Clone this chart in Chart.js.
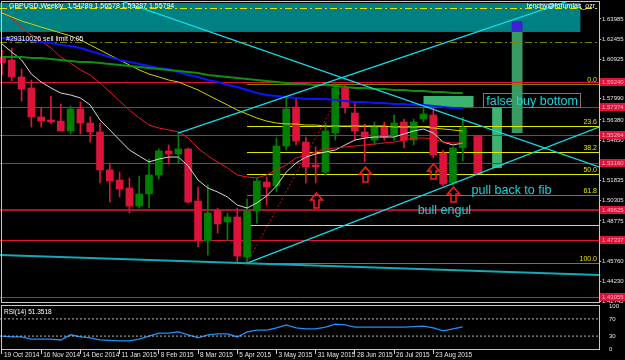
<!DOCTYPE html>
<html>
<head>
<meta charset="utf-8">
<script src="https://cdn.jsdelivr.net/npm/chart.js@4.4.0/dist/chart.umd.min.js"></script>
<style>
  html, body { margin: 0; padding: 0; background: #000; }
  #wrap { position: relative; width: 625px; height: 360px; overflow: hidden; background: #000; }
  #price { position: absolute; left: 0; top: 0; }
  #rsi { position: absolute; left: 0; top: 303px; }
</style>
</head>
<body>
<div id="wrap">
  <canvas id="price" width="625" height="303"></canvas>
  <canvas id="rsi" width="625" height="57"></canvas>
</div>
<script>
// weekly GBPUSD candles, 19 Oct 2014 onward (index = week)
const opens  = [1.6112,1.6090,1.5962,1.5879,1.5661,1.5638,1.5630,1.5555,1.5721,1.5615,1.5548,1.5262,1.5186,1.5126,1.4990,1.5081,1.5224,1.5405,1.5382,1.5420,1.5028,1.4727,1.4960,1.4870,1.4908,1.4606,1.4953,1.5171,1.5141,1.5442,1.5736,1.5472,1.5299,1.5246,1.5540,1.5879,1.5691,1.5548,1.5487,1.5585,1.5525,1.5623,1.5487,1.5645,1.5676,1.5389,1.5164,1.5429];
const highs  = [1.6165,1.6180,1.6022,1.5939,1.5728,1.5819,1.5758,1.5743,1.5773,1.5661,1.5615,1.5314,1.5246,1.5201,1.5216,1.5344,1.5420,1.5450,1.5540,1.5427,1.5133,1.5149,1.4975,1.4938,1.4975,1.5043,1.5201,1.5209,1.5502,1.5804,1.5804,1.5510,1.5435,1.5615,1.5917,1.5909,1.5773,1.5608,1.5623,1.5623,1.5676,1.5645,1.5645,1.5736,1.5736,1.5412,1.5435,1.5658];
const lows   = [1.5977,1.5932,1.5781,1.5585,1.5585,1.5608,1.5555,1.5533,1.5533,1.5472,1.5164,1.5020,1.5058,1.4938,1.4975,1.4975,1.5194,1.5307,1.5314,1.5013,1.4682,1.4621,1.4787,1.4727,1.4569,1.4561,1.4862,1.4998,1.5096,1.5412,1.5450,1.5164,1.5164,1.5224,1.5487,1.5691,1.5487,1.5322,1.5450,1.5487,1.5487,1.5427,1.5450,1.5623,1.5352,1.5141,1.5149,1.5329];
const closes = [1.6067,1.5962,1.5871,1.5661,1.5630,1.5623,1.5555,1.5721,1.5615,1.5548,1.5262,1.5179,1.5118,1.4990,1.5081,1.5224,1.5405,1.5382,1.5420,1.5020,1.4727,1.4938,1.4855,1.4908,1.4614,1.4953,1.5179,1.5133,1.5442,1.5721,1.5480,1.5284,1.5284,1.5555,1.5879,1.5736,1.5555,1.5510,1.5585,1.5510,1.5615,1.5487,1.5623,1.5683,1.5374,1.5156,1.5427,1.5579];

// moving averages
const maWhite  = [1.6210,1.6150,1.6090,1.5984,1.5924,1.5879,1.5841,1.5826,1.5804,1.5751,1.5638,1.5563,1.5487,1.5412,1.5367,1.5322,1.5344,1.5359,1.5359,1.5292,1.5186,1.5126,1.5096,1.5058,1.4998,1.4975,1.5013,1.5066,1.5141,1.5246,1.5314,1.5359,1.5382,1.5397,1.5412,1.5450,1.5487,1.5502,1.5510,1.5510,1.5510,1.5533,1.5555,1.5570,1.5540,1.5472,1.5450,1.5465];
const maRed    = [1.6451,1.6406,1.6331,1.6278,1.6233,1.6180,1.6112,1.6067,1.6015,1.5977,1.5917,1.5849,1.5781,1.5713,1.5653,1.5600,1.5578,1.5563,1.5548,1.5502,1.5427,1.5367,1.5322,1.5277,1.5224,1.5209,1.5201,1.5224,1.5262,1.5299,1.5352,1.5374,1.5397,1.5420,1.5427,1.5435,1.5442,1.5450,1.5457,1.5465,1.5472,1.5487,1.5502,1.5502,1.5495,1.5472,1.5465,1.5465];
const maYellow = [1.6444,1.6414,1.6383,1.6361,1.6338,1.6316,1.6293,1.6271,1.6240,1.6203,1.6165,1.6127,1.6090,1.6052,1.6015,1.5984,1.5962,1.5939,1.5924,1.5894,1.5864,1.5826,1.5789,1.5751,1.5713,1.5683,1.5653,1.5630,1.5615,1.5608,1.5608,1.5600,1.5600,1.5593,1.5593,1.5593,1.5593,1.5593,1.5593,1.5593,1.5585,1.5585,1.5585,1.5585,1.5578,1.5570,1.5563,1.5555];
const maBlue   = [1.6255,1.6248,1.6240,1.6233,1.6225,1.6218,1.6203,1.6195,1.6180,1.6157,1.6135,1.6112,1.6090,1.6075,1.6060,1.6045,1.6030,1.6022,1.6000,1.5977,1.5962,1.5939,1.5924,1.5902,1.5887,1.5864,1.5841,1.5826,1.5819,1.5811,1.5804,1.5796,1.5796,1.5796,1.5789,1.5781,1.5773,1.5773,1.5766,1.5766,1.5758,1.5758,1.5751,1.5751,1.5743,1.5736,1.5728,1.5728];
const maGreen  = [1.6112,1.6112,1.6112,1.6105,1.6105,1.6097,1.6090,1.6082,1.6075,1.6075,1.6067,1.6060,1.6052,1.6045,1.6037,1.6030,1.6022,1.6015,1.6007,1.6000,1.5992,1.5977,1.5969,1.5962,1.5954,1.5947,1.5939,1.5932,1.5924,1.5917,1.5909,1.5909,1.5902,1.5902,1.5894,1.5887,1.5879,1.5879,1.5871,1.5871,1.5864,1.5864,1.5856,1.5856,1.5849,1.5849,1.5841,1.5841];

// RSI(14)
const rsi = [30,28,28,23,23,23,21,33,28,26,21,20,19,19,23,30,37,37,40,33,26,33,35,35,28,40,44,44,49,56,49,47,47,51,58,56,51,51,51,51,51,51,52,53,49,42,47,51.35];

// axis labels
const priceTicks = [1.63985,1.62455,1.60925,1.57990,1.56380,1.54850,1.51835,1.50305,1.48775,1.45760,1.44230,1.42745];
const rsiTicks = [100,70,30,0];
const dateTickIdx = [0,4,8,12,16,20,24,28,32,36,40,44];
const dateLabels = ['19 Oct 2014','16 Nov 2014','14 Dec 2014','11 Jan 2015','8 Feb 2015','8 Mar 2015','5 Apr 2015','3 May 2015','31 May 2015','28 Jun 2015','26 Jul 2015','23 Aug 2015'];

// drawn objects (week index, price)
const srLevels = [1.59240,1.57374,1.55264,1.53160,1.49625,1.47337,1.43055];
const orderLevels = [1.6481,1.6225];
const fibLevels = [1.5909,1.5591,1.5394,1.5235,1.5076,1.4849,1.4561];
const fibNames = ['0.0','23.6','38.2','50.0','61.8','','100.0'];
const fibFrom = 25;
const fibAnchor = [25.0,1.4561,35.0,1.5909];
const zoneBoxes = [[-0.2,59.0,1.6519,1.6301],[52.0,53.1,1.6383,1.6301],[52.0,53.1,1.6301,1.5540],[50.0,51.0,1.5736,1.5277],[43.0,48.1,1.5819,1.5736],[48.1,49.0,1.5517,1.5224]];
const trendLines = [[17.96,1.5540,60.9,1.6612],[11.84,1.6542,60.9,1.5284],[25.0,1.4561,60.9,1.5585],[-0.2,1.4622,60.9,1.4471]];
const arrowIdx = [32,37,44,46];
const arrowPrice = [1.5088,1.5284,1.5307,1.5133];
const noteText = ['false buy bottom','pull back to fib','bull engul'];
const noteIdx = [49.4,47.9,42.4];
const notePrice = [1.5781,1.5111,1.4960];

const xMin = -0.2, xMax = 60.9;
const FONT = '"Liberation Sans", Arial, sans-serif';
Chart.defaults.font.family = FONT;

const weeks = opens.map((v, i) => i);
const candleColor = ctx => closes[ctx.dataIndex] >= opens[ctx.dataIndex] ? '#008000' : '#dc143c';
const maLine = (vals, color, w) => ({
  type: 'line', data: vals.map((v, i) => ({ x: i, y: v })),
  borderColor: color, borderWidth: w, pointRadius: 0, tension: 0, order: 0
});

function hline(ctx, x0, x1, y) {
  ctx.beginPath(); ctx.moveTo(x0, y); ctx.lineTo(x1, y); ctx.stroke();
}

const mtObjects = {
  id: 'mtObjects',
  beforeDatasetsDraw(chart) {
    const { ctx, chartArea: a } = chart;
    const X = v => chart.scales.x.getPixelForValue(v);
    const Y = v => chart.scales.y.getPixelForValue(v);
    ctx.save();
    ctx.beginPath(); ctx.rect(a.left, a.top, a.right - a.left, a.bottom - a.top); ctx.clip();

    const zoneColors = ['#008080', '#3a22d8', '#3a9a64', '#3cb371', '#3cb371', '#dc143c'];
    zoneBoxes.forEach((b, k) => {
      ctx.fillStyle = zoneColors[k];
      ctx.fillRect(X(b[0]), Y(b[2]), X(b[1]) - X(b[0]), Y(b[3]) - Y(b[2]));
    });

    // pending order lines
    ctx.lineWidth = 1;
    ctx.setLineDash([7, 3, 2, 3]);
    orderLevels.forEach((p, k) => {
      ctx.strokeStyle = k === 0 ? '#e6e600' : '#808000';
      hline(ctx, a.left, a.right, Math.round(Y(p)) + 0.5);
    });
    ctx.setLineDash([]);

    // support / resistance
    srLevels.forEach((p, k) => {
      ctx.strokeStyle = k === 4 ? '#b0122c' : '#dc143c';
      ctx.lineWidth = k === 4 ? 2 : 1;
      hline(ctx, a.left, a.right, Math.round(Y(p)) + (k === 4 ? 0 : 0.5));
    });

    // fibonacci levels
    ctx.lineWidth = 1;
    fibLevels.forEach((p, k) => {
      ctx.strokeStyle = (k === 0 || k === 4 || k === 6) ? '#808000' : '#e6e600';
      hline(ctx, X(fibFrom), a.right, Math.round(Y(p)) + 0.5);
    });
    ctx.restore();
  },
  afterDatasetsDraw(chart) {
    const { ctx, chartArea: a } = chart;
    const X = v => chart.scales.x.getPixelForValue(v);
    const Y = v => chart.scales.y.getPixelForValue(v);
    ctx.save();
    ctx.beginPath(); ctx.rect(a.left, a.top, a.right - a.left, a.bottom - a.top); ctx.clip();

    // fib anchor (dotted)
    ctx.strokeStyle = '#c0141c'; ctx.lineWidth = 1; ctx.setLineDash([2, 2]);
    ctx.beginPath(); ctx.moveTo(X(fibAnchor[0]), Y(fibAnchor[1])); ctx.lineTo(X(fibAnchor[2]), Y(fibAnchor[3])); ctx.stroke();
    ctx.setLineDash([]);

    // trend lines
    trendLines.forEach((t, k) => {
      ctx.strokeStyle = k === 3 ? '#14a9b8' : '#10dcec';
      ctx.lineWidth = k === 3 ? 2 : 1.3;
      ctx.beginPath(); ctx.moveTo(X(t[0]), Y(t[1])); ctx.lineTo(X(t[2]), Y(t[3])); ctx.stroke();
    });

    // up arrows
    ctx.strokeStyle = '#ff1a1a'; ctx.lineWidth = 1.5; ctx.lineJoin = 'miter';
    arrowIdx.forEach((ix, k) => {
      const x = Math.round(X(ix)) + 0.5, y = Math.round(Y(arrowPrice[k]));
      ctx.beginPath();
      ctx.moveTo(x, y); ctx.lineTo(x + 6, y + 7); ctx.lineTo(x + 2.5, y + 7);
      ctx.lineTo(x + 2.5, y + 15); ctx.lineTo(x - 2.5, y + 15); ctx.lineTo(x - 2.5, y + 7);
      ctx.lineTo(x - 6, y + 7); ctx.closePath(); ctx.stroke();
    });

    // notes
    ctx.font = '12.5px ' + FONT; ctx.textBaseline = 'middle'; ctx.textAlign = 'left';
    noteText.forEach((t, k) => {
      const x = X(noteIdx[k]), y = Y(notePrice[k]);
      if (k === 0) {
        const w = ctx.measureText(t).width;
        ctx.strokeStyle = '#7a7a7a'; ctx.lineWidth = 1;
        ctx.strokeRect(Math.round(x) - 2.5, Math.round(y) - 7.5, Math.round(w) + 5, 14);
      }
      ctx.fillStyle = '#1cd2df';
      ctx.fillText(t, x, y + 1);
    });

    // fib labels
    ctx.font = '7px ' + FONT; ctx.textAlign = 'right'; ctx.textBaseline = 'bottom';
    ctx.fillStyle = '#e6e600';
    fibLevels.forEach((p, k) => { if (fibNames[k]) ctx.fillText(fibNames[k], a.right - 2, Math.round(Y(p)) - 0.5); });
    ctx.restore();
  },
  afterDraw(chart) {
    const { ctx, chartArea: a } = chart;
    const Y = v => chart.scales.y.getPixelForValue(v);
    ctx.save();
    // frame
    ctx.strokeStyle = '#c8c8c8'; ctx.lineWidth = 1;
    ctx.strokeRect(1.5, a.top - 0.5, a.right - 1, a.bottom - a.top + 1);

    // price labels of levels on the axis
    ctx.font = '6px ' + FONT; ctx.textBaseline = 'middle'; ctx.textAlign = 'left';
    srLevels.forEach(p => {
      const y = Math.round(Y(p));
      ctx.fillStyle = '#dc143c';
      ctx.fillRect(a.right + 1, y - 4, 25, 8);
      ctx.fillStyle = '#ffb0bd';
      ctx.fillText(p.toFixed(5), a.right + 3, y + 0.5);
    });

    // header texts
    ctx.font = '7px ' + FONT; ctx.textBaseline = 'top';
    ctx.fillStyle = '#ffffff';
    ctx.fillText('GBPUSD,Weekly  1.54289 1.56578 1.53287 1.55794', 9, 3);
    ctx.fillText('#29310026 sell limit 0.05', 6, 36);
    ctx.textAlign = 'right';
    ctx.fillText('tenchy@forumlas_ozr', a.right - 4, 3);
    ctx.restore();
  }
};

new Chart(document.getElementById('price'), {
  type: 'bar',
  data: {
    datasets: [
      maLine(maGreen, '#0e8f0e', 2),
      maLine(maBlue, '#0a14ff', 2),
      maLine(maYellow, '#d2d200', 1),
      maLine(maRed, '#ee1520', 1),
      maLine(maWhite, '#d8d8d8', 1),
      {
        data: weeks.map(i => ({ x: i, y: [lows[i], highs[i]] })),
        backgroundColor: candleColor, barThickness: 1, grouped: false, order: 2
      },
      {
        data: weeks.map(i => ({ x: i, y: [opens[i], closes[i]] })),
        backgroundColor: candleColor, barThickness: 7, minBarLength: 1, grouped: false, order: 1
      }
    ]
  },
  options: {
    responsive: false,
    animation: false,
    events: [],
    layout: { padding: { top: 2, bottom: 1, left: 0, right: 0 } },
    plugins: { legend: { display: false }, tooltip: { enabled: false } },
    scales: {
      x: { type: 'linear', min: xMin, max: xMax, offset: false, display: false },
      y: {
        position: 'right', min: 1.42675, max: 1.65265,
        afterBuildTicks: s => { s.ticks = priceTicks.map(v => ({ value: v })); },
        afterFit: s => { s.width = 26; s.paddingTop = 0; s.paddingBottom = 0; },
        ticks: { color: '#e4e4e4', font: { size: 6 }, padding: 1, autoSkip: false, callback: v => v.toFixed(5) },
        grid: { drawOnChartArea: false, color: '#c8c8c8', tickLength: 2 },
        border: { display: false }
      }
    }
  },
  plugins: [mtObjects]
});

const rsiPanel = {
  id: 'rsiPanel',
  afterDraw(chart) {
    const { ctx, chartArea: a } = chart;
    ctx.save();
    ctx.strokeStyle = '#c8c8c8'; ctx.lineWidth = 1;
    ctx.strokeRect(1.5, a.top - 0.5, a.right - 1, a.bottom - a.top + 1);
    ctx.font = '6.5px ' + FONT; ctx.fillStyle = '#ffffff'; ctx.textBaseline = 'top';
    ctx.fillText('RSI(14) 51.3518', 4, a.top + 3);
    ctx.restore();
  }
};

const levelLine = v => ({
  data: [{ x: xMin, y: v }, { x: xMax, y: v }],
  borderColor: '#b4b4b4', borderWidth: 1, borderDash: [2, 2], pointRadius: 0
});

new Chart(document.getElementById('rsi'), {
  type: 'line',
  data: {
    datasets: [
      levelLine(70),
      levelLine(30),
      { data: rsi.map((v, i) => ({ x: i, y: v })), borderColor: '#1e90ff', borderWidth: 1.3, pointRadius: 0, tension: 0 }
    ]
  },
  options: {
    responsive: false,
    animation: false,
    events: [],
    layout: { padding: { top: 3, bottom: 0, left: 0, right: 0 } },
    plugins: { legend: { display: false }, tooltip: { enabled: false } },
    scales: {
      x: {
        type: 'linear', min: xMin, max: xMax,
        afterBuildTicks: s => { s.ticks = dateTickIdx.map(v => ({ value: v })); },
        afterFit: s => { s.height = 11; s.paddingLeft = 0; s.paddingRight = 0; },
        ticks: {
          align: 'start', labelOffset: 2, padding: -3, color: '#e4e4e4', font: { size: 6.5 },
          autoSkip: false, maxRotation: 0,
          callback: v => dateLabels[dateTickIdx.indexOf(v)]
        },
        grid: { drawOnChartArea: false, color: '#c8c8c8', tickLength: 5 },
        border: { display: false }
      },
      y: {
        position: 'right', min: 0, max: 100,
        afterBuildTicks: s => { s.ticks = rsiTicks.map(v => ({ value: v })); },
        afterFit: s => { s.width = 26; s.paddingTop = 0; s.paddingBottom = 0; },
        ticks: { color: '#e4e4e4', font: { size: 6 }, padding: 2, autoSkip: false },
        grid: { display: false },
        border: { display: false }
      }
    }
  },
  plugins: [rsiPanel]
});
</script>
</body>
</html>
